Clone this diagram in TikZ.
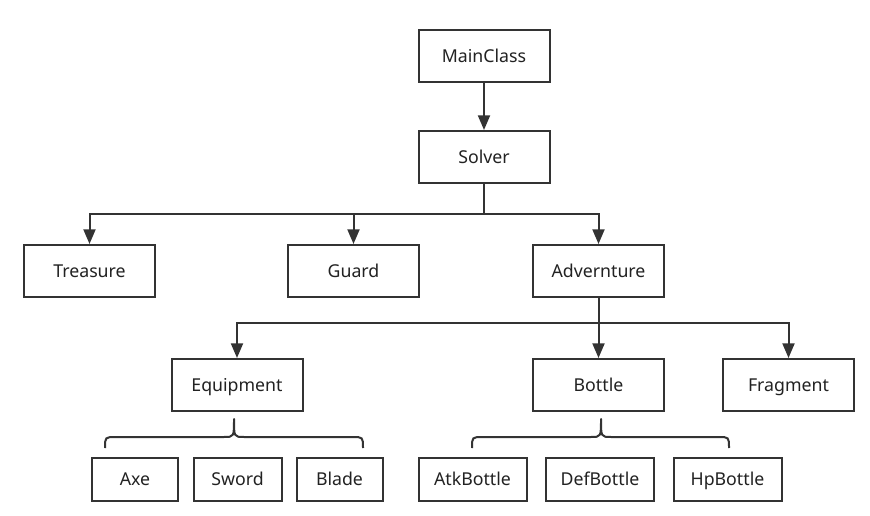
\documentclass[tikz,border=0pt]{standalone}
\usepackage{fontspec}
\setmainfont{Noto Sans}
\usetikzlibrary{arrows.meta}
\definecolor{ln}{HTML}{333333}
\definecolor{tx}{HTML}{222222}
\tikzset{
  box/.style={draw=ln, line width=1.5pt, fill=white, text=tx, minimum width=98.25pt, minimum height=39pt, inner sep=0pt, text height=11pt, text depth=1pt, font=\fontsize{13.3}{15}\selectfont},
  sbox/.style={box, minimum height=32.25pt},
  conn/.style={draw=ln, line width=1.5pt},
  arr/.style={conn, -{Triangle[length=11pt,width=9pt]}},
  brc/.style={draw=ln, line width=1.5pt, line join=round}
}
\begin{document}
\begin{tikzpicture}[x=0.75pt,y=-0.75pt]
\useasboundingbox (0,0) rectangle (870,516);
\node[box] (main) at (484,56) {MainClass};
\node[box] (solver) at (484,157) {Solver};
\node[box] (treasure) at (89.5,271) {Treasure};
\node[box] (guard) at (353.5,271) {Guard};
\node[box] (adv) at (598.5,271) {Advernture};
\node[box] (equip) at (237,385) {Equipment};
\node[box] (bottle) at (598.5,385) {Bottle};
\node[box] (frag) at (788.5,385) {Fragment};
\node[sbox, minimum width=64.5pt] (axe) at (135,479) {Axe};
\node[sbox, minimum width=66pt] (sword) at (237.5,479) {Sword};
\node[sbox, minimum width=64.5pt] (blade) at (339.5,479) {Blade};
\node[sbox, minimum width=81pt] (atk) at (472.5,479) {AtkBottle};
\node[sbox, minimum width=81pt] (def) at (600,479) {DefBottle};
\node[sbox, minimum width=81pt] (hp) at (727.5,479) {HpBottle};
\coordinate (j1) at (484,214);
\coordinate (j2) at (598.5,323);
\draw[arr] (main) -- (solver);
\draw[conn] (solver) -- (j1);
\draw[arr] (j1) -| (treasure.north);
\draw[arr] (j1) -| (guard.north);
\draw[arr] (j1) -| (adv.north);
\draw[conn] (adv) -- (j2);
\draw[arr] (j2) -| (equip.north);
\draw[arr] (j2) -- (bottle.north);
\draw[arr] (j2) -| (frag.north);
% braces
\draw[brc] (105,448) .. controls (105,437) .. (116,437) -- (224,437) .. controls (234,437) .. (234,419) .. controls (234,437) .. (244,437) -- (352,437) .. controls (363,437) .. (363,448);
\draw[brc] (472,448) .. controls (472,437) .. (483,437) -- (591,437) .. controls (601,437) .. (601,419) .. controls (601,437) .. (611,437) -- (718,437) .. controls (729,437) .. (729,448);
\end{tikzpicture}
\end{document}
